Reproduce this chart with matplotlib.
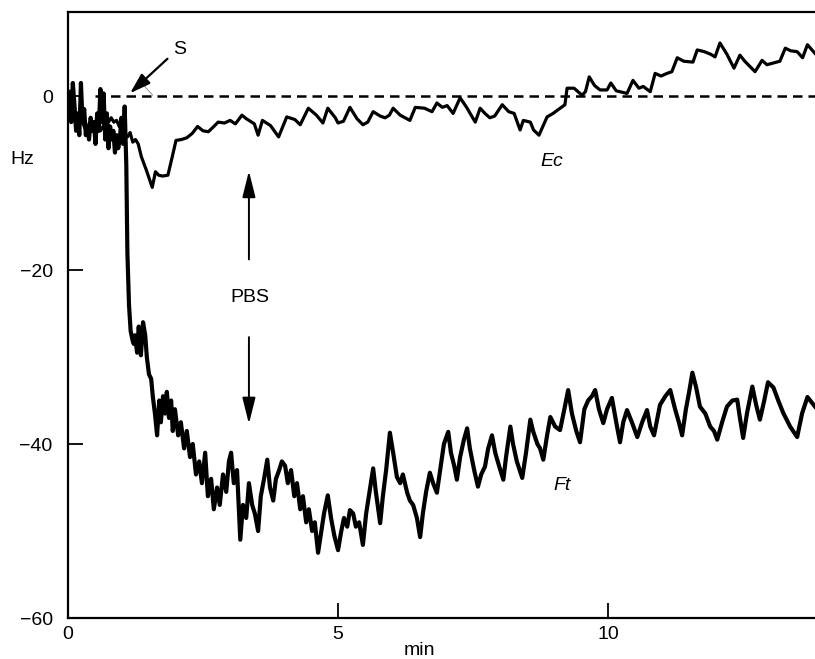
import matplotlib
matplotlib.use("Agg")
import matplotlib.pyplot as plt

plt.rcParams['font.family'] = ['Liberation Sans', 'DejaVu Sans']

# Ec trace (time in min, frequency shift in Hz)
ec_t = [0.0, 0.05, 0.1, 0.15, 0.2, 0.25, 0.3, 0.35, 0.4, 0.45, 0.5, 0.55, 0.6, 0.65,
        0.7, 0.75, 0.8, 0.85, 0.9, 0.95, 1.0, 1.05, 1.1, 1.15, 1.2, 1.25, 1.3, 1.36,
        1.45, 1.56, 1.62, 1.68, 1.75, 1.85, 1.93, 2.0, 2.1, 2.2, 2.3, 2.4, 2.5, 2.6,
        2.7, 2.78, 2.9, 3.0, 3.1, 3.22, 3.3, 3.45, 3.52, 3.6, 3.75, 3.9, 4.05, 4.2,
        4.3, 4.45, 4.6, 4.72, 4.81, 4.95, 5.0, 5.1, 5.22, 5.35, 5.46, 5.55, 5.65,
        5.78, 5.87, 5.95, 6.02, 6.15, 6.33, 6.43, 6.6, 6.74, 6.83, 6.93, 7.02, 7.13,
        7.26, 7.38, 7.54, 7.63, 7.72, 7.81, 7.9, 8.04, 8.16, 8.26, 8.37, 8.43, 8.56,
        8.62, 8.72, 8.87, 8.98, 9.11, 9.2, 9.24, 9.37, 9.46, 9.52, 9.58, 9.65, 9.75,
        9.85, 9.98, 10.05, 10.15, 10.35, 10.46, 10.57, 10.65, 10.78, 10.87, 10.98,
        11.09, 11.18, 11.28, 11.4, 11.57, 11.65, 11.78, 11.9, 11.98, 12.07, 12.2,
        12.33, 12.44, 12.53, 12.72, 12.85, 12.94, 13.06, 13.18, 13.28, 13.38, 13.5,
        13.6, 13.69, 13.83]
ec_hz = [-1.0, -2.5, -1.5, -3.0, -3.5, -2.5, -3.5, -4.0, -3.0, -3.5, -3.0, -3.5, -4.0, -3.5,
         -2.5, -3.0, -2.5, -3.0, -2.8, -3.5, -3.8, -4.3, -4.7, -4.2, -5.3, -5.0, -5.5, -7.0,
         -8.5, -10.5, -8.7, -9.1, -9.2, -9.1, -7.0, -5.1, -5.0, -4.8, -4.3, -3.5, -4.0, -4.1,
         -3.5, -3.0, -3.1, -2.8, -3.2, -2.2, -2.6, -3.2, -4.5, -2.8, -3.4, -4.7, -2.4, -2.7,
         -3.3, -1.4, -2.2, -3.1, -1.4, -2.5, -3.1, -2.9, -1.3, -2.6, -3.3, -3.0, -1.8,
         -2.3, -2.5, -2.2, -1.4, -2.2, -2.8, -1.3, -1.4, -1.8, -0.8, -1.3, -1.1, -2.0,
         -0.2, -1.3, -3.0, -1.4, -2.0, -2.5, -2.3, -1.0, -1.8, -2.0, -3.9, -2.8, -3.0,
         -3.9, -4.5, -2.4, -2.0, -1.4, -1.0, 0.9, 0.9, 0.4, 0.1, 0.5, 2.2, 1.2,
         0.7, 0.7, 1.5, 0.6, 0.3, 1.8, 0.9, 1.1, 0.5, 2.6, 2.3,
         2.6, 2.8, 4.4, 4.0, 3.9, 5.3, 5.1, 4.8, 4.5, 6.1, 4.8,
         3.2, 4.7, 4.0, 2.8, 4.1, 3.6, 3.8, 4.0, 5.5, 5.2, 5.1,
         4.4, 5.9, 4.9]

# Ft trace
ft_t = [0.0, 0.03, 0.06, 0.09, 0.12, 0.15, 0.18, 0.21, 0.24, 0.27, 0.3, 0.33, 0.36, 0.39,
        0.42, 0.45, 0.48, 0.51, 0.54, 0.57, 0.6, 0.63, 0.66, 0.69, 0.72, 0.75, 0.78, 0.81,
        0.84, 0.87, 0.9, 0.93, 0.96, 0.99, 1.02, 1.05, 1.08, 1.10, 1.13, 1.16, 1.20, 1.22, 1.24,
        1.28, 1.31, 1.35, 1.39, 1.43, 1.46, 1.50, 1.54, 1.57, 1.61, 1.65, 1.69, 1.72, 1.76,
        1.80, 1.83, 1.87, 1.91, 1.94, 1.98, 2.04, 2.09, 2.15, 2.20, 2.26, 2.31, 2.37, 2.43,
        2.48, 2.54, 2.59, 2.65, 2.70, 2.76, 2.81, 2.87, 2.93, 2.98, 3.02, 3.07, 3.13, 3.19,
        3.24, 3.30, 3.35, 3.41, 3.46, 3.52, 3.57, 3.63, 3.69, 3.74, 3.80, 3.85, 3.91, 3.96,
        4.02, 4.07, 4.13, 4.19, 4.24, 4.30, 4.35, 4.41, 4.46, 4.52, 4.57, 4.63, 4.69, 4.74,
        4.81, 4.87, 4.93, 5.00, 5.06, 5.11, 5.17, 5.22, 5.28, 5.33, 5.39, 5.46, 5.52, 5.57,
        5.65, 5.70, 5.78, 5.83, 5.89, 5.96, 6.02, 6.09, 6.15, 6.20, 6.28, 6.33, 6.39, 6.46,
        6.52, 6.57, 6.63, 6.70, 6.76, 6.83, 6.89, 6.96, 7.04, 7.09, 7.15, 7.20, 7.26, 7.33,
        7.39, 7.44, 7.52, 7.59, 7.65, 7.72, 7.78, 7.85, 7.91, 7.98, 8.06, 8.11, 8.19, 8.24,
        8.31, 8.41, 8.48, 8.56, 8.61, 8.69, 8.74, 8.80, 8.87, 8.93, 9.02, 9.11, 9.19, 9.26,
        9.33, 9.41, 9.48, 9.56, 9.63, 9.70, 9.76, 9.83, 9.91, 9.98, 10.07, 10.15, 10.22,
        10.28, 10.35, 10.44, 10.54, 10.63, 10.72, 10.78, 10.85, 10.96, 11.06, 11.15, 11.24,
        11.31, 11.37, 11.44, 11.50, 11.56, 11.63, 11.70, 11.80, 11.89, 11.96, 12.02, 12.11,
        12.20, 12.30, 12.39, 12.44, 12.50, 12.57, 12.67, 12.74, 12.81, 12.89, 12.96, 13.06,
        13.15, 13.24, 13.37, 13.50, 13.59, 13.69, 13.83]
ft_hz = [-2.0, 0.5, -3.0, 1.5, -1.0, -4.0, -2.0, -4.5, 1.5, -3.0, -1.5, -4.5, -3.5, -5.0,
         -2.5, -4.0, -3.0, -5.5, -2.0, -4.0, 0.8, -3.0, 0.3, -5.0, -2.0, -6.0, -3.5, -5.0,
         -4.0, -6.5, -4.5, -6.0, -5.0, -2.5, -5.5, -1.2, -8.0, -18.0, -24.0, -27.0, -28.2, -28.5,
         -27.5, -29.5, -26.5, -29.8, -26.0, -27.5, -30.0, -32.0, -32.5, -34.5, -36.5, -39.0,
         -35.0, -37.5, -34.5, -36.5, -34.0, -37.0, -35.0, -38.5, -36.0, -39.0, -37.5, -40.5,
         -38.5, -41.5, -40.0, -43.5, -42.0, -44.5, -41.0, -46.0, -44.0, -47.5, -45.0, -47.0,
         -43.5, -45.5, -42.0, -41.0, -44.5, -43.0, -51.0, -47.0, -48.5, -44.5, -47.0, -48.0,
         -50.0, -46.0, -44.0, -41.8, -45.0, -46.5, -44.0, -43.0, -42.0, -42.5, -44.5, -43.0,
         -46.0, -44.5, -47.5, -46.0, -49.0, -47.5, -50.0, -49.0, -52.5, -50.0, -48.0, -45.9,
         -48.5, -50.5, -52.2, -50.0, -48.5, -49.5, -47.6, -48.0, -49.5, -49.0, -51.6, -48.0,
         -46.0, -42.8, -45.5, -49.1, -46.0, -43.0, -38.7, -41.0, -43.8, -44.5, -43.5, -45.6,
         -46.5, -47.0, -48.5, -50.7, -48.0, -45.5, -43.3, -44.5, -45.6, -43.0, -40.0, -38.6,
         -41.0, -42.5, -44.1, -41.5, -39.5, -38.2, -40.5, -43.0, -44.9, -43.5, -42.6, -40.5,
         -39.0, -41.0, -42.5, -44.1, -41.5, -38.0, -40.0, -42.0, -43.9, -41.0, -37.2, -38.5,
         -40.0, -40.5, -41.8, -39.0, -36.9, -38.0, -38.4, -36.0, -33.8, -36.5, -38.5, -39.8,
         -36.0, -35.0, -34.5, -33.8, -36.0, -37.6, -36.0, -34.7, -37.5, -39.8, -37.5, -36.1,
         -37.5, -39.2, -37.5, -36.1, -38.0, -39.0, -35.5, -34.5, -33.8, -36.0, -37.5, -39.0,
         -36.0, -34.0, -31.8, -33.5, -35.7, -36.5, -38.0, -38.5, -39.5, -37.5, -35.7, -35.0,
         -34.9, -37.0, -39.3, -36.5, -33.4, -35.5, -37.2, -35.0, -32.9, -33.5, -35.0, -36.4,
         -38.0, -39.2, -36.5, -34.6, -35.7]

x_ticks = [0, 5, 10]
y_ticks = [0, -20, -40, -60]

fig = plt.figure(figsize=(8.15, 6.59), dpi=100)
ax = fig.add_axes([0.0834, 0.0622, 0.9166, 0.9196])

ax.plot([0.5, 13.83], [0, 0], color='black', lw=1.8, ls=(0, (3.8, 2.4)))
ax.plot(ec_t, ec_hz, color='black', lw=2.3, solid_joinstyle='round')
ax.plot(ft_t, ft_hz, color='black', lw=3.0, solid_joinstyle='round')

ax.set_xlim(0, 13.83)
ax.set_ylim(-60, 9.66)
ax.set_xticks(x_ticks)
ax.set_yticks(y_ticks)
ax.set_xticklabels([str(v) for v in x_ticks])
ax.set_yticklabels(['0', '\u221220', '\u221240', '\u221260'])
ax.tick_params(direction='in', length=11, width=1.3, labelsize=14)
ax.tick_params(axis='y', pad=11)
ax.tick_params(axis='x', pad=6)
ax.spines['right'].set_visible(False)
for s in ['left', 'bottom', 'top']:
    ax.spines[s].set_linewidth(1.6)

ax.text(-0.0616, 0.756, 'Hz', transform=ax.transAxes, fontsize=14, ha='center', va='center')
ax.text(0.471, -0.053, 'min', transform=ax.transAxes, fontsize=14, ha='center', va='center')

# stimulus marker
ax.annotate('', xy=(1.11, 0.1), xytext=(1.88, 4.5),
            arrowprops=dict(arrowstyle='-|>,head_length=0.7,head_width=0.22',
                            mutation_scale=18, color='black', lw=1.6))
ax.plot([1.39, 1.57], [1.3, 0.1], color='gray', lw=0.6)
ax.text(2.07, 5.4, 'S', fontsize=14, ha='center', va='center')

# PBS arrows
ax.annotate('', xy=(3.35, -8.3), xytext=(3.35, -19.1),
            arrowprops=dict(arrowstyle='-|>,head_length=0.8,head_width=0.2',
                            mutation_scale=20, color='black', lw=1.4))
ax.annotate('', xy=(3.35, -38.0), xytext=(3.35, -27.4),
            arrowprops=dict(arrowstyle='-|>,head_length=0.8,head_width=0.2',
                            mutation_scale=20, color='black', lw=1.4))
ax.text(3.37, -23.2, 'PBS', fontsize=14, ha='center', va='center')

ax.text(8.96, -7.5, 'Ec', fontsize=14, style='italic', ha='center', va='center')
ax.text(9.15, -44.8, 'Ft', fontsize=14, style='italic', ha='center', va='center')

fig.savefig('out.png', dpi=100)
